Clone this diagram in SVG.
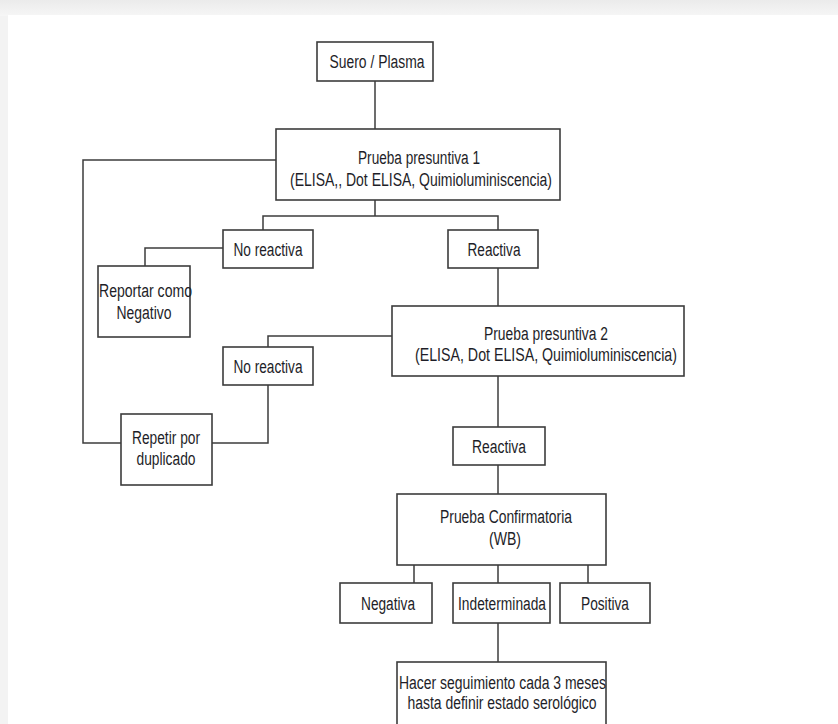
<svg xmlns="http://www.w3.org/2000/svg" width="838" height="724" viewBox="0 0 838 724">
  <defs>
    <linearGradient id="topShade" x1="0" y1="0" x2="0" y2="1">
      <stop offset="0" stop-color="#ebebeb"/>
      <stop offset="1" stop-color="#f6f6f6"/>
    </linearGradient>
    <style>
      .box { fill: #ffffff; stroke: #3c3c3c; stroke-width: 1.6; }
      .link { fill: none; stroke: #3c3c3c; stroke-width: 1.5; }
      text { font-family: "Liberation Sans", Arial, sans-serif; font-size: 18px; fill: #1e1e28; }
      .c { text-anchor: middle; }
    </style>
  </defs>

  <!-- page background -->
  <rect x="0" y="0" width="838" height="724" fill="#f3f3f3"/>
  <rect x="0" y="0" width="838" height="16" fill="url(#topShade)"/>
  <rect x="8" y="15" width="830" height="709" fill="#ffffff"/>

  <!-- connectors -->
  <g id="connectors">
    <path class="link" d="M375,81 V129"/>
    <path class="link" d="M276,160 H83 V443 H121"/>
    <path class="link" d="M375,200 V216 M263,230 V216 H498 V230"/>
    <path class="link" d="M223,248 H145 V266"/>
    <path class="link" d="M498,268 V306"/>
    <path class="link" d="M392,336 H268 V347"/>
    <path class="link" d="M268,385 V443 H212"/>
    <path class="link" d="M498,376 V427"/>
    <path class="link" d="M498,465 V494"/>
    <path class="link" d="M414,565 V583 M498,565 V583 M588,565 V583"/>
    <path class="link" d="M498,623 V662"/>
  </g>

  <g id="suero">
    <rect class="box" x="317" y="42" width="116" height="39"/>
    <text x="377" y="68" class="c" textLength="95" lengthAdjust="spacingAndGlyphs">Suero / Plasma</text>
  </g>

  <g id="presuntiva1">
    <rect class="box" x="276" y="129" width="284" height="71"/>
    <text x="419" y="164" class="c" textLength="122" lengthAdjust="spacingAndGlyphs">Prueba presuntiva 1</text>
    <text x="421" y="186" class="c" textLength="262" lengthAdjust="spacingAndGlyphs">(ELISA,, Dot ELISA, Quimioluminiscencia)</text>
  </g>

  <g id="noReactiva1">
    <rect class="box" x="223" y="230" width="90" height="38"/>
    <text x="268" y="256" class="c" textLength="69" lengthAdjust="spacingAndGlyphs">No reactiva</text>
  </g>

  <g id="reactiva1">
    <rect class="box" x="448" y="230" width="90" height="38"/>
    <text x="494" y="256" class="c" textLength="53" lengthAdjust="spacingAndGlyphs">Reactiva</text>
  </g>

  <g id="reportar">
    <rect class="box" x="98" y="266" width="92" height="71"/>
    <text x="99" y="297" textLength="93" lengthAdjust="spacingAndGlyphs">Reportar como</text>
    <text x="144" y="319" class="c" textLength="55" lengthAdjust="spacingAndGlyphs">Negativo</text>
  </g>

  <g id="presuntiva2">
    <rect class="box" x="392" y="306" width="292" height="70"/>
    <text x="546" y="340" class="c" textLength="124" lengthAdjust="spacingAndGlyphs">Prueba presuntiva 2</text>
    <text x="546" y="361" class="c" textLength="262" lengthAdjust="spacingAndGlyphs">(ELISA, Dot ELISA, Quimioluminiscencia)</text>
  </g>

  <g id="noReactiva2">
    <rect class="box" x="223" y="347" width="90" height="38"/>
    <text x="268" y="373" class="c" textLength="69" lengthAdjust="spacingAndGlyphs">No reactiva</text>
  </g>

  <g id="repetir">
    <rect class="box" x="121" y="414" width="91" height="71"/>
    <text x="166" y="444" class="c" textLength="68" lengthAdjust="spacingAndGlyphs">Repetir por</text>
    <text x="166" y="465" class="c" textLength="59" lengthAdjust="spacingAndGlyphs">duplicado</text>
  </g>

  <g id="reactiva2">
    <rect class="box" x="453" y="427" width="92" height="38"/>
    <text x="499" y="453" class="c" textLength="54" lengthAdjust="spacingAndGlyphs">Reactiva</text>
  </g>

  <g id="confirmatoria">
    <rect class="box" x="397" y="494" width="209" height="71"/>
    <text x="506" y="523" class="c" textLength="132" lengthAdjust="spacingAndGlyphs">Prueba Confirmatoria</text>
    <text x="505" y="545" class="c" textLength="32" lengthAdjust="spacingAndGlyphs">(WB)</text>
  </g>

  <g id="negativa">
    <rect class="box" x="340" y="583" width="92" height="40"/>
    <text x="388" y="610" class="c" textLength="54" lengthAdjust="spacingAndGlyphs">Negativa</text>
  </g>

  <g id="indeterminada">
    <rect class="box" x="453" y="583" width="97" height="40"/>
    <text x="502" y="610" class="c" textLength="88" lengthAdjust="spacingAndGlyphs">Indeterminada</text>
  </g>

  <g id="positiva">
    <rect class="box" x="560" y="583" width="90" height="40"/>
    <text x="605" y="610" class="c" textLength="48" lengthAdjust="spacingAndGlyphs">Positiva</text>
  </g>

  <g id="seguimiento">
    <rect class="box" x="397" y="662" width="209" height="80"/>
    <text x="399" y="689" textLength="207" lengthAdjust="spacingAndGlyphs">Hacer seguimiento cada 3 meses</text>
    <text x="502" y="709" class="c" textLength="189" lengthAdjust="spacingAndGlyphs">hasta definir estado serológico</text>
  </g>
</svg>
